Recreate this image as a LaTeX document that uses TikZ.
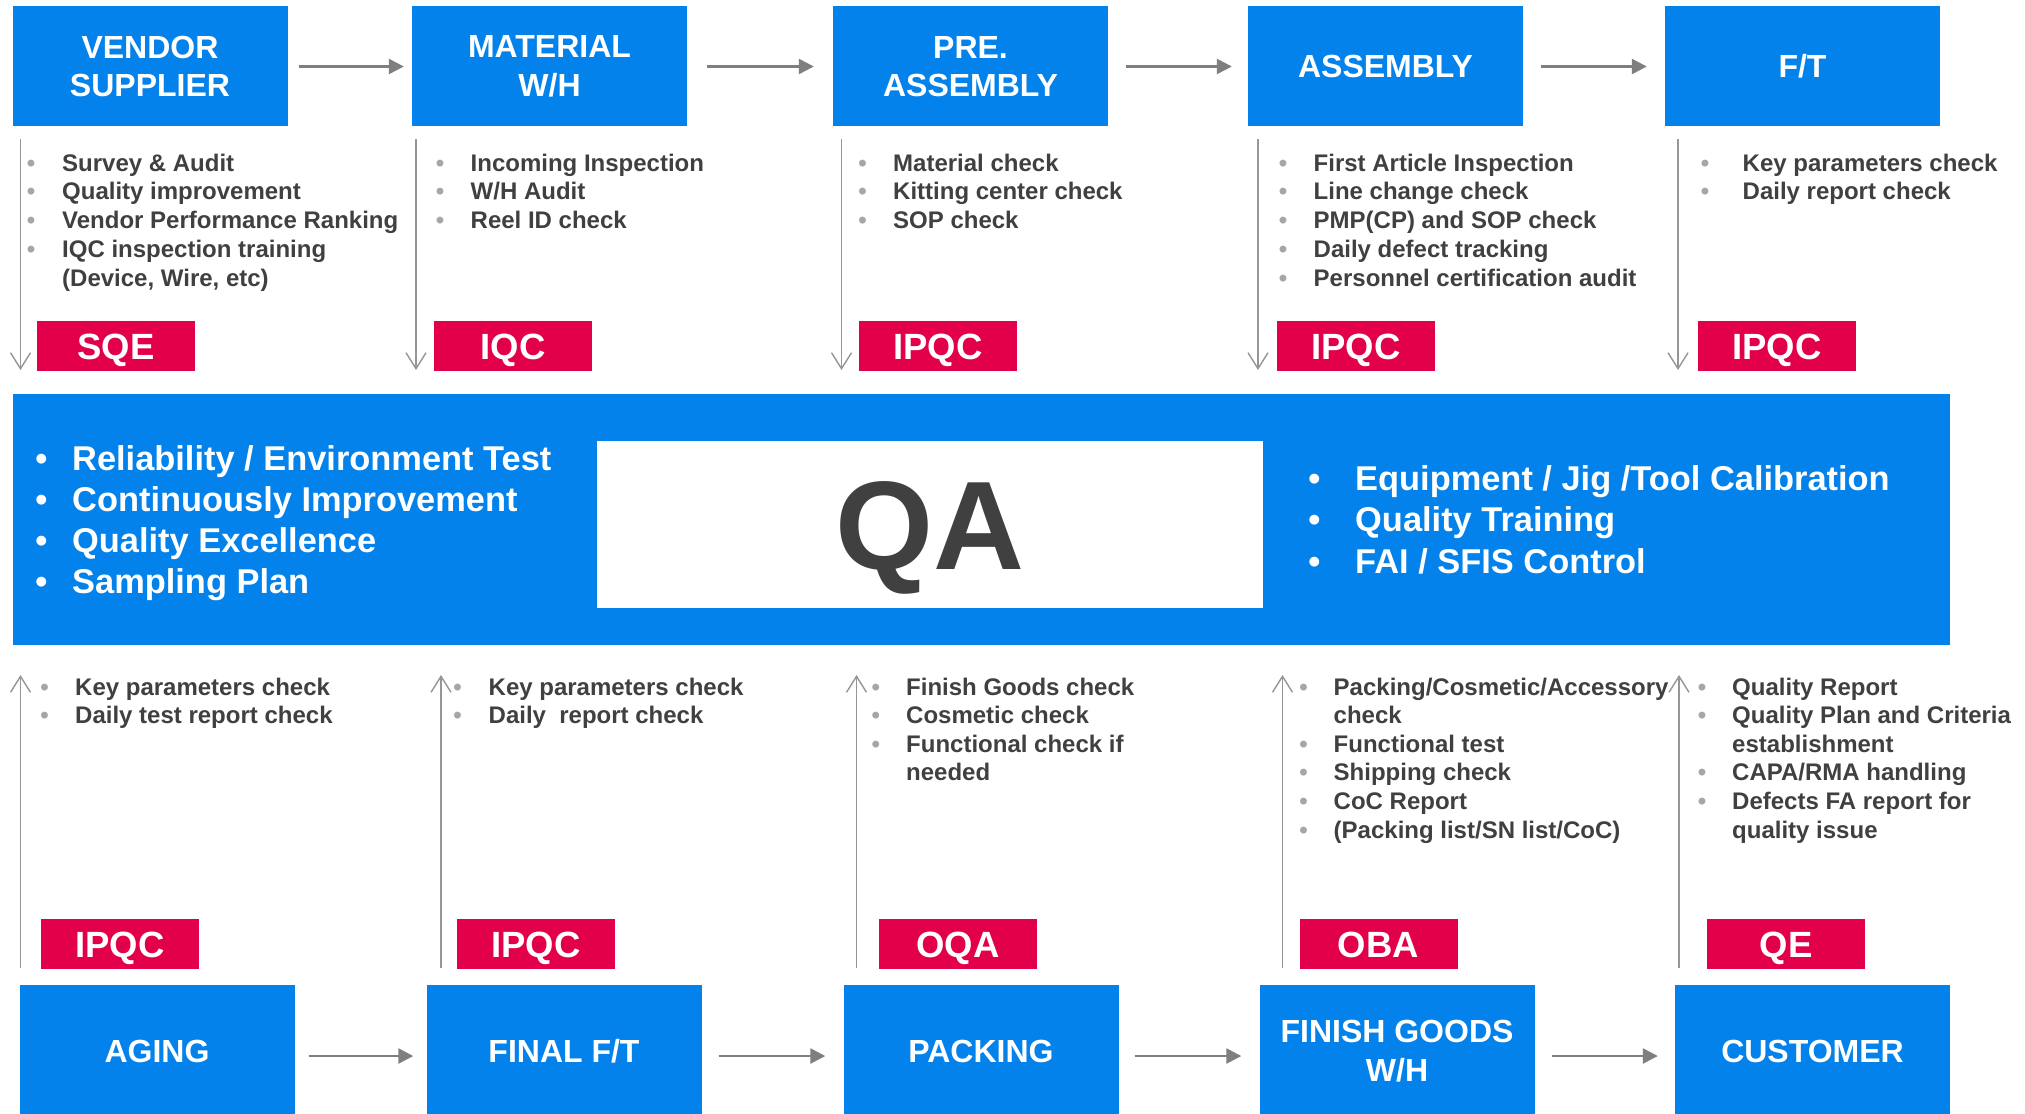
\documentclass[tikz,border=0pt]{standalone}
\usepackage{fontspec}
\setmainfont{Liberation Sans}
\usetikzlibrary{arrows.meta}
\definecolor{qblue}{RGB}{2,130,234}
\definecolor{qred}{RGB}{226,0,74}
\definecolor{qtext}{RGB}{64,64,64}
\definecolor{qdot}{RGB}{166,166,166}
\definecolor{qarrow}{RGB}{127,127,127}
\definecolor{qvline}{RGB}{150,150,150}
\tikzset{
  stage/.style={fill=qblue, text=white, font=\bfseries\fontsize{32}{38.7}\selectfont,
    align=center, inner sep=0pt, minimum width=275pt},
  role/.style={fill=qred, text=white, font=\bfseries\fontsize{36.5}{40}\selectfont,
    inner sep=0pt, minimum width=158pt, minimum height=50pt, text height=26.2pt, text depth=0pt},
  itemtxt/.style={text=qtext, font=\bfseries\fontsize{24}{28.8}\selectfont, inner sep=0pt, anchor=base west},
  itemdot/.style={text=qdot, font=\bfseries\fontsize{24}{28.8}\selectfont, inner sep=0pt, anchor=base},
  bandtxt/.style={text=white, font=\bfseries\fontsize{34.4}{41.3}\selectfont, inner sep=0pt, anchor=base west},
  banddot/.style={text=white, font=\bfseries\fontsize{34.4}{41.3}\selectfont, inner sep=0pt, anchor=base},
  flow/.style={draw=qarrow, line width=2.5pt, -{Triangle[length=15pt,width=15pt]}},
  vflow/.style={draw=qvline, line width=1.4pt, -{Straight Barb[length=16pt,width=20pt,line width=1.4pt]}},
}
\newcommand\qitem[5]{%
  \node[itemdot] (#1d) at (#2,#4) {\textbullet};
  \node[itemtxt] (#1) at (#3,#4) {#5};}
\newcommand\qcont[4]{\node[itemtxt] (#1) at (#2,#3) {#4};}
\newcommand\qband[5]{%
  \node[banddot] (#1d) at (#2,#4) {\textbullet};
  \node[bandtxt] (#1) at (#3,#4) {#5};}
\begin{document}
\begin{tikzpicture}[x=1pt,y=-1pt]
\useasboundingbox (0,0) rectangle (2025,1113);
\fill[white] (0,0) rectangle (2025,1113);

% ---------- top stages
\node[stage, minimum height=120pt] (t1) at (150,66.5) {VENDOR\\SUPPLIER};
\node[stage, minimum height=120pt] (t2) at (549.5,66.5) {MATERIAL\\W/H};
\node[stage, minimum height=120pt] (t3) at (970.5,66.5) {PRE.\\ASSEMBLY};
\node[stage, minimum height=120pt] (t4) at (1385.5,66.5) {ASSEMBLY};
\node[stage, minimum height=120pt] (t5) at (1802.5,66.5) {F/T};

\draw[flow, shorten <=11pt, shorten >=8pt] (t1.east) -- (t2.west);
\draw[flow, shorten <=20pt, shorten >=19pt] (t2.east) -- (t3.west);
\draw[flow, shorten <=18pt, shorten >=16pt] (t3.east) -- (t4.west);
\draw[flow, shorten <=18pt, shorten >=18pt] (t4.east) -- (t5.west);

% top vertical arrows
\coordinate (va1) at (20.5,139); \coordinate (vb1) at (20.5,370);
\coordinate (va2) at (416,139);  \coordinate (vb2) at (416,370);
\coordinate (va3) at (841.5,139); \coordinate (vb3) at (841.5,370);
\coordinate (va4) at (1258,139); \coordinate (vb4) at (1258,370);
\coordinate (va5) at (1678,139); \coordinate (vb5) at (1678,370);
\foreach \i in {1,...,5} {\draw[vflow] (va\i) -- (vb\i);}

% top roles
\node[role] (r1) at (116,346) {SQE};
\node[role] (r2) at (513,346) {IQC};
\node[role] (r3) at (938,346) {IPQC};
\node[role] (r4) at (1356,346) {IPQC};
\node[role] (r5) at (1777,346) {IPQC};

% top items
\qitem{a1}{31}{62}{171}{Survey \& Audit}
\qitem{a2}{31}{62}{199.8}{Quality improvement}
\qitem{a3}{31}{62}{228.6}{Vendor Performance Ranking}
\qitem{a4}{31}{62}{257.4}{IQC inspection training}
\qcont{a5}{62}{286.2}{(Device, Wire, etc)}

\qitem{b1}{440}{470.5}{171}{Incoming Inspection}
\qitem{b2}{440}{470.5}{199.8}{W/H Audit}
\qitem{b3}{440}{470.5}{228.6}{Reel ID check}

\qitem{c1}{862.5}{893}{171}{Material check}
\qitem{c2}{862.5}{893}{199.8}{Kitting center check}
\qitem{c3}{862.5}{893}{228.6}{SOP check}

\qitem{d1}{1283}{1313.5}{171}{First Article Inspection}
\qitem{d2}{1283}{1313.5}{199.8}{Line change check}
\qitem{d3}{1283}{1313.5}{228.6}{PMP(CP) and SOP check}
\qitem{d4}{1283}{1313.5}{257.4}{Daily defect tracking}
\qitem{d5}{1283}{1313.5}{286.2}{Personnel certification audit}

\qitem{e1}{1705}{1742.5}{171}{Key parameters check}
\qitem{e2}{1705}{1742.5}{199.8}{Daily report check}

% ---------- QA band
\node[fill=qblue, inner sep=0pt, minimum width=1937pt, minimum height=251pt] (band) at (981.5,519.5) {};
\node[fill=white, inner sep=0pt, minimum width=666pt, minimum height=167pt,
  text height=90pt, text depth=0pt,
  text=qtext, font=\bfseries\fontsize{126}{130}\selectfont] (qa) at (930,524.5) {QA};

\qband{m1}{41.5}{72}{470}{Reliability / Environment Test}
\qband{m2}{41.5}{72}{511.3}{Continuously Improvement}
\qband{m3}{41.5}{72}{552.6}{Quality Excellence}
\qband{m4}{41.5}{72}{593.9}{Sampling Plan}

\qband{n1}{1314.5}{1355}{490}{Equipment / Jig /Tool Calibration}
\qband{n2}{1314.5}{1355}{531.5}{Quality Training}
\qband{n3}{1314.5}{1355}{573}{FAI / SFIS Control}

% ---------- bottom stages
\node[stage, minimum height=132pt] (s1) at (157,1051) {AGING};
\node[stage, minimum height=132pt] (s2) at (564,1051) {FINAL F/T};
\node[stage, minimum height=132pt] (s3) at (981,1051) {PACKING};
\node[stage, minimum height=132pt] (s4) at (1397,1051) {FINISH GOODS\\W/H};
\node[stage, minimum height=132pt] (s5) at (1812.5,1051) {CUSTOMER};

\draw[flow, shorten <=14pt, shorten >=13pt] ([yshift=-5pt]s1.east) -- ([yshift=-5pt]s2.west);
\draw[flow, shorten <=17pt, shorten >=18pt] ([yshift=-5pt]s2.east) -- ([yshift=-5pt]s3.west);
\draw[flow, shorten <=16pt, shorten >=18pt] ([yshift=-5pt]s3.east) -- ([yshift=-5pt]s4.west);
\draw[flow, shorten <=17pt, shorten >=17pt] ([yshift=-5pt]s4.east) -- ([yshift=-5pt]s5.west);

% bottom vertical arrows
\coordinate (wa1) at (20.5,968); \coordinate (wb1) at (20.5,675);
\coordinate (wa2) at (441,968);  \coordinate (wb2) at (441,675);
\coordinate (wa3) at (856.5,968); \coordinate (wb3) at (856.5,675);
\coordinate (wa4) at (1282.5,968); \coordinate (wb4) at (1282.5,675);
\coordinate (wa5) at (1679,968); \coordinate (wb5) at (1679,675);
\foreach \i in {1,...,5} {\draw[vflow] (wa\i) -- (wb\i);}

% bottom roles
\node[role] (q1) at (120,944) {IPQC};
\node[role] (q2) at (536,944) {IPQC};
\node[role] (q3) at (958,944) {OQA};
\node[role] (q4) at (1378.5,944) {OBA};
\node[role] (q5) at (1786,944) {QE};

% bottom items
\qitem{f1}{44.6}{75}{695}{Key parameters check}
\qitem{f2}{44.6}{75}{723.6}{Daily test report check}

\qitem{g1}{457.6}{488.5}{695}{Key parameters check}
\qitem{g2}{457.6}{488.5}{723.6}{Daily\ \ report check}

\qitem{h1}{875.7}{906}{695}{Finish Goods check}
\qitem{h2}{875.7}{906}{723.6}{Cosmetic check}
\qitem{h3}{875.7}{906}{752.2}{Functional check if}
\qcont{h4}{906}{780.8}{needed}

\qitem{i1}{1303.5}{1333.5}{695}{Packing/Cosmetic/Accessory}
\qcont{i2}{1333.5}{723.6}{check}
\qitem{i3}{1303.5}{1333.5}{752.2}{Functional test}
\qitem{i4}{1303.5}{1333.5}{780.8}{Shipping check}
\qitem{i5}{1303.5}{1333.5}{809.4}{CoC Report}
\qitem{i6}{1303.5}{1333.5}{838}{(Packing list/SN list/CoC)}

\qitem{j1}{1702}{1732}{695}{Quality Report}
\qitem{j2}{1702}{1732}{723.6}{Quality Plan and Criteria}
\qcont{j3}{1732}{752.2}{establishment}
\qitem{j4}{1702}{1732}{780.8}{CAPA/RMA handling}
\qitem{j5}{1702}{1732}{809.4}{Defects FA report for}
\qcont{j6}{1732}{838}{quality issue}
\end{tikzpicture}
\end{document}
